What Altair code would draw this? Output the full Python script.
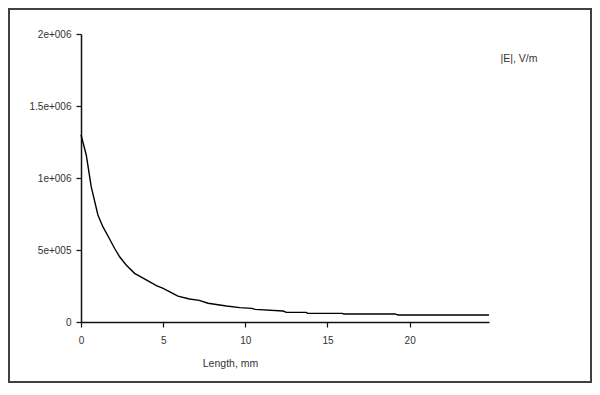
import altair as alt
import pandas as pd

# Data
length_mm = [0, 0.11, 0.32, 0.62, 1.03, 1.33, 1.7, 2.04, 2.35, 2.75, 3.26, 3.97,
             4.59, 5.0, 5.2, 5.9, 6.6, 7.2, 7.73, 8.85, 9.66, 10.4, 10.6, 12.3,
             12.5, 13.7, 13.8, 15.9, 16.0, 19.1, 19.3, 24.83]
e_field = [1.30e6, 1.252e6, 1.16e6, 0.94e6, 0.743e6, 0.662e6, 0.585e6, 0.512e6,
           0.453e6, 0.396e6, 0.338e6, 0.292e6, 0.252e6, 0.234e6, 0.222e6, 0.18e6,
           0.16e6, 0.15e6, 0.13e6, 0.111e6, 0.10e6, 0.095e6, 0.088e6, 0.076e6,
           0.067e6, 0.067e6, 0.06e6, 0.06e6, 0.056e6, 0.056e6, 0.049e6, 0.049e6]
x_ticks = [0, 5, 10, 15, 20]
y_ticks = [0, 5e5, 1e6, 1.5e6, 2e6]
x_title = "Length, mm"
y_title = "|E|, V/m"

df = pd.DataFrame({"x": length_mm, "y": e_field})

W, H = 408, 288
PAD = {"left": 73, "top": 26, "right": 103, "bottom": 61}
FONT = "Liberation Sans"
TXT = "#333333"

line = alt.Chart(df).mark_line(color="black", strokeWidth=1.4).encode(
    x=alt.X("x:Q",
            scale=alt.Scale(domain=[0, 24.83], nice=False, zero=False),
            axis=alt.Axis(values=x_ticks, title=x_title, grid=False,
                          domainColor="#111", domainWidth=1.5,
                          tickColor="#111", tickWidth=1.2, tickSize=5,
                          labelPadding=8, labelFont=FONT, labelFontSize=10,
                          labelColor=TXT, labelFlush=False,
                          titleFont=FONT, titleFontSize=10.5, titleColor=TXT,
                          titleFontWeight="normal",
                          titleX=149, titleY=41, titleAlign="center",
                          titleBaseline="middle")),
    y=alt.Y("y:Q",
            scale=alt.Scale(domain=[0, 2e6], nice=False),
            axis=alt.Axis(values=y_ticks, title=y_title, grid=False,
                          labelExpr="datum.value == 0 ? '0' : replace(format(datum.value, '~e'), 'e+', 'e+00')",
                          domainColor="#111", domainWidth=1.5,
                          tickColor="#111", tickWidth=1.2, tickSize=5,
                          labelPadding=5, labelFont=FONT, labelFontSize=10,
                          labelColor=TXT,
                          titleFont=FONT, titleFontSize=10.5, titleColor=TXT,
                          titleFontWeight="normal", titleAngle=0,
                          titleX=419, titleY=24, titleAlign="left",
                          titleBaseline="middle")),
)

frame = alt.Chart(df).mark_rect(fill=None, stroke="#404040", strokeWidth=2).encode(
    x=alt.value(-PAD["left"] + 1),
    x2=alt.value(W + PAD["right"] - 1),
    y=alt.value(-PAD["top"] + 1),
    y2=alt.value(H + PAD["bottom"] - 1),
)

chart = alt.layer(frame, line).properties(
    width=W, height=H,
    padding=PAD,
    autosize=alt.AutoSizeParams(type="none"),
    background="white",
).configure_view(stroke=None)

chart.save("out.html", embed_options={"renderer": "svg", "actions": False})
